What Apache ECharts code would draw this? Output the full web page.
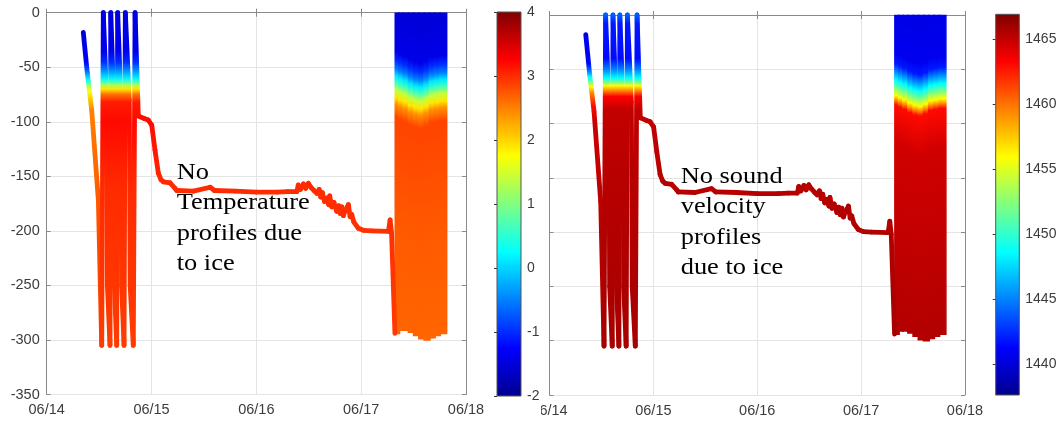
<!DOCTYPE html>
<html><head><meta charset="utf-8">
<script src="https://cdn.jsdelivr.net/npm/echarts@6/dist/echarts.min.js"></script>
<style>html,body{margin:0;padding:0;background:#fff}#c{width:1061px;height:423px}</style>
</head><body><div id="c"></div>
<script>
// ---------- tick labels ----------
const dayLabels = ['06/14', '06/15', '06/16', '06/17', '06/18'];
const soundTicks = [1440, 1445, 1450, 1455, 1460, 1465];
const tempRange = [-2, 4];
const soundRange = [1437.64, 1466.92];

// ---------- vehicle track (day of June, depth m) ----------
// first descending cast
const castTime  = [14.349, 14.387, 14.429, 14.493, 14.525];
const castDepth = [-18, -55, -89, -172, -305];
// yo-yo profiles followed by the under-ice bottom-following track
const trackTime = [14.525, 14.540, 14.572, 14.579, 14.604, 14.611, 14.640, 14.645, 14.668, 14.677,
  14.708, 14.714, 14.738, 14.750, 14.788, 14.796, 14.826, 14.843,
  14.874, 14.930, 14.969, 15.002, 15.033, 15.065, 15.090, 15.113, 15.177, 15.224, 15.240,
  15.400, 15.560, 15.600, 15.800, 16.000, 16.200, 16.300, 16.386, 16.400, 16.420, 16.450, 16.470, 16.496,
  16.520, 16.550, 16.576, 16.600, 16.615, 16.630, 16.650, 16.672, 16.690, 16.700, 16.720, 16.740, 16.767,
  16.785, 16.800, 16.815, 16.830, 16.850, 16.878, 16.894, 16.910, 16.930, 16.973, 17.021, 17.100, 17.260,
  17.276, 17.290, 17.322];
const trackDepth = [-305, 0, -80, -250, -305, 0, -80, -250, -305, 0,
  -80, -250, -305, 0, -80, -250, -305, 0,
  -94.7, -97, -98.4, -103, -126, -147, -153, -155, -156, -161, -163,
  -163.5, -160, -163, -163.5, -164.5, -164.5, -164, -164, -158, -162, -157, -161, -156.4,
  -160, -163, -165.5, -162, -169, -165, -173, -170, -176, -168, -178, -174, -182,
  -177, -184, -178, -186, -181, -176, -187, -185, -192, -197.6, -199.5, -200, -200.5,
  -190, -202, -294];
// dense profiling block: strip edges (day), strip bottom depth (m), depth shift of the cline (m)
const blockStripTime   = [17.325, 17.36, 17.40, 17.45, 17.50, 17.55, 17.60, 17.65, 17.70, 17.75, 17.81];
const blockStripBottom = [-294, -291, -291, -293, -296, -299, -300, -298, -296, -294];
const blockStripShift  = [0, -2, -4, -7, -9, -10, -8, -5, -4, -3];

// ---------- temperature (°C) vs depth ----------
const castTDepth = [0, -20, -45, -52, -58, -62, -67, -72, -80, -90, -120, -200, -305];
const castTemp   = [-1.5, -1.5, -1.3, -0.8, -0.1, 0.3, 1.2, 1.75, 2.1, 2.5, 2.6, 2.8, 2.9];
const trackTDepth = [0, -35, -45, -52, -58, -62, -66, -70, -75, -82, -100, -160, -220, -305];
const trackTemp   = [-1.45, -1.4, -1.0, -0.5, 0.0, 0.4, 1.2, 1.9, 2.6, 3.1, 3.2, 3.0, 2.95, 2.9];
const blockTDepth = [0, -36, -44, -52, -58, -64, -71, -78, -84, -96, -200, -300];
const blockTemp   = [-1.5, -1.4, -1.0, -0.5, 0.1, 0.6, 1.4, 1.9, 2.4, 2.85, 2.72, 2.65];

// ---------- sound velocity (m/s) vs depth ----------
const castSDepth = [0, -20, -45, -52, -57, -62, -66, -72, -84, -97, -200, -305];
const castSound  = [1440.6, 1440.6, 1441.5, 1445, 1448.6, 1452, 1455.9, 1459.6, 1463, 1464.8, 1465.3, 1465.6];
const trackSDepth = [0, -8, -40, -50, -58, -62, -65, -70, -75, -87, -150, -305];
const trackSound  = [1444, 1442, 1441.6, 1445, 1448.6, 1452, 1455.9, 1459.6, 1463.3, 1465, 1465.3, 1465.8];
const blockSDepth = [0, -35, -45, -53, -60, -68, -74, -78, -83, -118, -300];
const blockSound  = [1440.5, 1440.8, 1442, 1445.5, 1448.6, 1452.5, 1455.9, 1459, 1463, 1464.6, 1465.5];

// jet colormap
const jetColors = ['#00008f', '#0000ff', '#0080ff', '#00ffff', '#80ff80', '#ffff00', '#ff8000', '#ff0000', '#800000'];

const jetRGB = jetColors.map(h => [1, 3, 5].map(k => parseInt(h.slice(k, k + 2), 16)));
function jet(v, range) {
  let n = (v - range[0]) / (range[1] - range[0]);
  n = Math.max(0, Math.min(1, n));
  const f = n * (jetRGB.length - 1);
  const i = Math.min(Math.floor(f), jetRGB.length - 2);
  const t = f - i, a = jetRGB[i], b = jetRGB[i + 1];
  return 'rgb(' + a.map((c, k) => Math.round(c + (b[k] - c) * t)).join(',') + ')';
}
function depthGradient(api, pDepth, pVal, range, shift) {
  const yTop = api.coord([14, 0])[1], yBot = api.coord([14, -350])[1];
  const stops = pDepth.map((d, i) => ({ offset: Math.min(1, (d + (shift || 0)) / -350), color: jet(pVal[i], range) }));
  return new echarts.graphic.LinearGradient(0, yTop, 0, yBot, stops, true);
}
function segData(times, depths) {
  const out = [];
  for (let i = 0; i < times.length - 1; i++) out.push([times[i], depths[i], times[i + 1], depths[i + 1]]);
  return out;
}
function segSeries(ax, times, depths, pDepth, pVal, range) {
  return {
    type: 'custom', xAxisIndex: ax, yAxisIndex: ax, silent: true, z: 3,
    data: segData(times, depths), encode: { x: [0, 2], y: [1, 3] },
    renderItem(params, api) {
      const p1 = api.coord([api.value(0), api.value(1)]);
      const p2 = api.coord([api.value(2), api.value(3)]);
      return { type: 'line', shape: { x1: p1[0], y1: p1[1], x2: p2[0], y2: p2[1] },
        style: { stroke: depthGradient(api, pDepth, pVal, range, 0), lineWidth: 4.8, lineCap: 'round' } };
    }
  };
}
function blockSeries(ax, pDepth, pVal, range) {
  const data = blockStripBottom.map((b, i) => [blockStripTime[i], 0, blockStripTime[i + 1], b, blockStripShift[i]]);
  return {
    type: 'custom', xAxisIndex: ax, yAxisIndex: ax, silent: true, z: 2,
    data, encode: { x: [0, 2], y: [1, 3] },
    renderItem(params, api) {
      const a = api.coord([api.value(0), api.value(1)]);
      const b = api.coord([api.value(2), api.value(3)]);
      const g = depthGradient(api, pDepth, pVal, range, api.value(4));
      return { type: 'rect', shape: { x: a[0], y: a[1] + 0.5, width: b[0] - a[0] + 0.6, height: b[1] - a[1] - 0.5 },
        style: { fill: g, stroke: g, lineWidth: 1.5 } };
    }
  };
}
function colorbarSeries(ax, range) {
  return {
    type: 'custom', xAxisIndex: ax, yAxisIndex: ax, silent: true,
    data: [[0, range[0], 1, range[1]]], encode: { x: [0, 2], y: [1, 3] },
    renderItem(params, api) {
      const a = api.coord([api.value(0), api.value(3)]);
      const b = api.coord([api.value(2), api.value(1)]);
      const stops = jetColors.slice().reverse().map((c, i) => ({ offset: i / (jetColors.length - 1), color: c }));
      return { type: 'rect', shape: { x: a[0], y: a[1], width: b[0] - a[0], height: b[1] - a[1] },
        style: { fill: new echarts.graphic.LinearGradient(0, 0, 0, 1, stops), stroke: '#555', lineWidth: 1 } };
    }
  };
}

const FONT = '"Liberation Sans", Arial, sans-serif';
const axisCol = '#8a8a8a', labCol = '#3c3c3c', gridCol = '#e4e4e4';
function xAxes(gi) {
  const base = { type: 'value', gridIndex: gi, min: 14, max: 18, interval: 1,
    axisLine: { lineStyle: { color: axisCol, width: 1 } },
    axisTick: { inside: true, length: 4, lineStyle: { color: axisCol } } };
  return [
    Object.assign({}, base, { position: 'bottom',
      axisLabel: { margin: 8, color: labCol, fontSize: 14.5, fontFamily: FONT, formatter: v => dayLabels[v - 14] },
      splitLine: { show: true, lineStyle: { color: gridCol, width: 1 } } }),
    Object.assign({}, base, { position: 'top', axisLabel: { show: false }, splitLine: { show: false } })
  ];
}
function yAxes(gi, labels) {
  const base = { type: 'value', gridIndex: gi, min: -350, max: 0, interval: 50,
    axisLine: { show: true, lineStyle: { color: axisCol, width: 1 } },
    axisTick: { show: true, inside: true, length: 4, lineStyle: { color: axisCol } } };
  return [
    Object.assign({}, base, { position: 'left',
      axisLabel: { show: labels, margin: 7, color: labCol, fontSize: 14.5, fontFamily: FONT },
      splitLine: { show: true, lineStyle: { color: gridCol, width: 1 } } }),
    Object.assign({}, base, { position: 'right', axisLabel: { show: false }, splitLine: { show: false } })
  ];
}
function cbAxes(gi, range, extra) {
  return {
    x: { type: 'value', gridIndex: gi, min: 0, max: 1, show: false },
    y: Object.assign({ type: 'value', gridIndex: gi, min: range[0], max: range[1], position: 'right',
      axisLine: { show: false }, splitLine: { show: false },
      axisTick: { show: true, inside: true, length: 3, lineStyle: { color: '#333' } },
      axisLabel: { margin: 6, color: labCol, fontSize: 14, fontFamily: FONT, formatter: v => String(v) } }, extra)
  };
}
const cbL = cbAxes(2, tempRange, { interval: 1 });
const cbR = cbAxes(3, soundRange, {});
cbR.y.axisLabel.customValues = soundTicks;
cbR.y.axisTick.customValues = soundTicks;

const xl = xAxes(0), xr = xAxes(1), yl = yAxes(0, true), yr = yAxes(1, false);
// axis index mapping: 0/1 left plot, 2/3 right plot, 4 left colorbar, 5 right colorbar
const xAx = [xl[0], xl[1], xr[0], xr[1], cbL.x, cbR.x];
const yAx = [yl[0], yl[1], yr[0], yr[1], cbL.y, cbR.y];

const chart = echarts.init(document.getElementById('c'), null, { renderer: 'canvas' });
chart.setOption({
  animation: false,
  backgroundColor: '#ffffff',
  grid: [
    { left: 46.7, top: 12.7, width: 419.3, height: 381.8 },
    { left: 549.5, top: 15, width: 415.5, height: 380 },
    { left: 497, top: 12, width: 24, height: 384 },
    { left: 995.7, top: 14.3, width: 23.6, height: 380.7 }
  ],
  xAxis: xAx,
  yAxis: yAx,
  series: [
    blockSeries(0, blockTDepth, blockTemp, tempRange),
    segSeries(0, castTime, castDepth, castTDepth, castTemp, tempRange),
    segSeries(0, trackTime, trackDepth, trackTDepth, trackTemp, tempRange),
    blockSeries(2, blockSDepth, blockSound, soundRange),
    segSeries(2, castTime, castDepth, castSDepth, castSound, soundRange),
    segSeries(2, trackTime, trackDepth, trackSDepth, trackSound, soundRange),
    colorbarSeries(4, tempRange),
    colorbarSeries(5, soundRange)
  ],
  graphic: [
    { type: 'rect', z: 100, shape: { x: 522, y: 403, width: 19, height: 20 }, style: { fill: '#ffffff' } },
    { type: 'text', z: 101, x: 176.7, y: 157.4, scaleX: 1.1,
      style: { text: 'No\nTemperature\nprofiles due\nto ice', font: '24px "Liberation Serif", "Times New Roman", serif',
        fill: '#000', lineHeight: 30.5, verticalAlign: 'top', align: 'left' } },
    { type: 'text', z: 101, x: 680.7, y: 161, scaleX: 1.1,
      style: { text: 'No sound\nvelocity\nprofiles\ndue to ice', font: '24px "Liberation Serif", "Times New Roman", serif',
        fill: '#000', lineHeight: 30.5, verticalAlign: 'top', align: 'left' } }
  ]
});
</script></body></html>
